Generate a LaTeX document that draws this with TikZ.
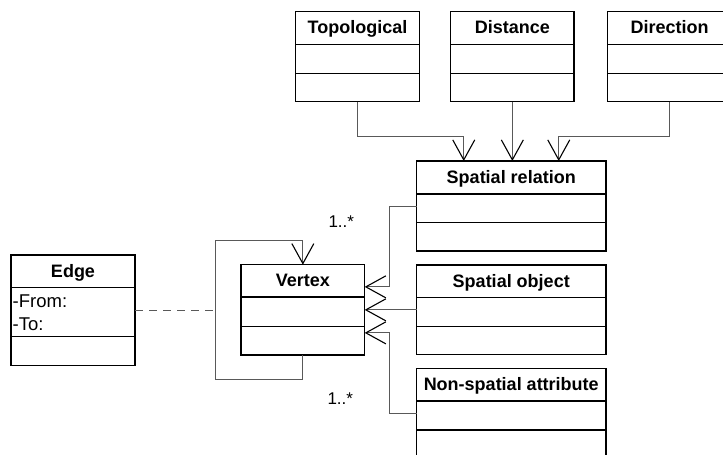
\documentclass[tikz,border=0pt]{standalone}
\usepackage{fontspec}
\setmainfont{Liberation Sans}
\usetikzlibrary{arrows.meta}

\tikzset{
  classbox/.style={draw=black, line width=1.5pt, inner sep=0pt, outer sep=0pt, rectangle},
  compline/.style={draw=black, line width=1.5pt},
  classtitle/.style={font=\fontsize{18}{20}\selectfont\bfseries, anchor=base, inner sep=0pt},
  attr/.style={font=\fontsize{18.5}{20}\selectfont, anchor=base west, inner sep=0pt},
  mult/.style={font=\fontsize{17}{20}\selectfont, anchor=base west, inner sep=0pt},
  conn/.style={draw=black!65, line width=1pt},
  assoc/.style={conn, -{Straight Barb[length=20pt,width=22pt,line width=1.1pt,color=black]}},
  dep/.style={conn, dash pattern=on 8pt off 6pt},
}

% UML class: name, left, top, width, header line y, second line y, bottom, title
\newcommand\umlclass[8]{%
  \node[classbox, anchor=north west, minimum width=#4pt, minimum height={(#7)-(#3)}] (#1) at (#2,#3) {};
  \draw[compline] (#2,#5) -- ++(#4,0);
  \draw[compline] (#2,#6) -- ++(#4,0);
  \node[classtitle] (#1-title) at ({#2+#4/2},{(#3+#5)/2+6}) {#8};
}

\begin{document}
\begin{tikzpicture}[x=1pt,y=-1pt]
  \clip (0,0) rectangle (723,455);
  \fill[white] (0,0) rectangle (723,455);

  % spatial relation kinds
  \umlclass{topo}{295.7}{11.7}{123.6}{44.3}{73.7}{101.7}{Topological}
  \umlclass{dist}{450.7}{11.7}{123.3}{44.3}{73.7}{101.7}{Distance}
  \umlclass{dir}{607.7}{11.7}{124}{44.3}{73.7}{101.7}{Direction}

  % vertex contents
  \umlclass{srel}{416.5}{161}{189.5}{194}{222.7}{251}{Spatial relation}
  \umlclass{sobj}{416.5}{265}{189.5}{297.3}{326.7}{354.7}{Spatial object}
  \umlclass{nsa}{416.5}{368.5}{189.5}{401}{430}{458}{Non-spatial attribute}

  % graph
  \umlclass{vertex}{241}{264.7}{123.7}{297}{326.7}{355}{Vertex}
  \umlclass{edge}{11}{255}{124}{287.7}{336.7}{365.3}{Edge}
  \node[attr] (efrom) at (12.5,307.7) {-From:};
  \node[attr] (eto) at (12.5,330) {-To:};

  % generalisations into spatial relation
  \draw[assoc] (topo.south) -- ++(0,34.3) -| ([xshift=-47.5pt]srel.north);
  \draw[assoc] (dist.south) -- (dist.south |- srel.north);
  \draw[assoc] (dir.south) -- ++(0,34.3) -| ([xshift=47.5pt]srel.north);

  % associations into vertex
  \draw[assoc] (srel.west) -- ++(-27.5,0) |- ([yshift=23pt]vertex.east);
  \draw[assoc] (sobj.west) -- (vertex.east);
  \draw[assoc] (nsa.west) -- ++(-27.5,0) |- ([yshift=-23pt]vertex.east);

  % vertex self association, with the edge class hanging off it
  \coordinate (loopBL) at (215.3,379.3);
  \coordinate (loopTL) at (215.3,240);
  \draw[assoc] (vertex.south) |- (loopBL) -- (loopTL) -| (vertex.north);
  \draw[dep] (edge.east) -- (edge.east -| loopBL);

  % multiplicities
  \node[mult] (m1) at (328.3,227.7) {1..*};
  \node[mult] (m2) at (327.3,404.5) {1..*};
\end{tikzpicture}
\end{document}
